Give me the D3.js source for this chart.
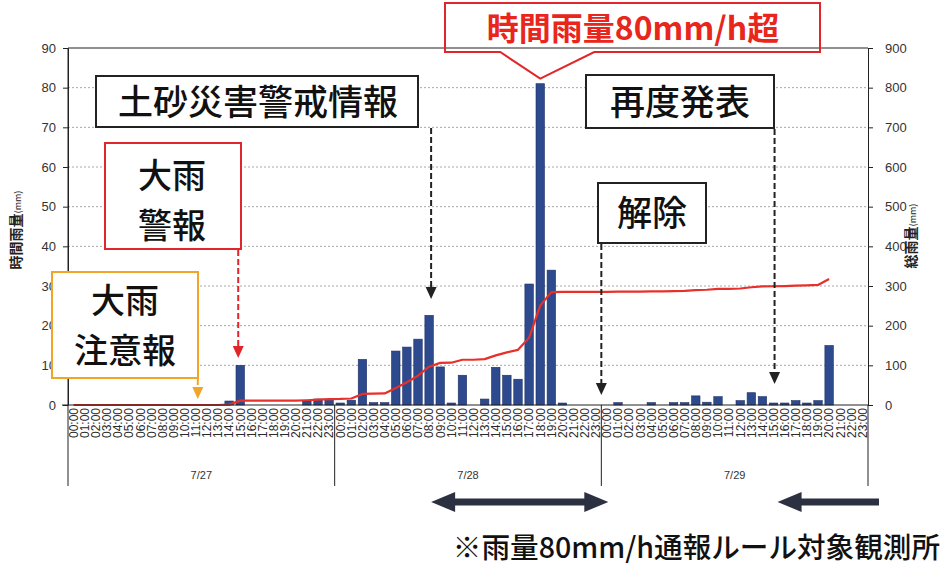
<!DOCTYPE html>
<html>
<head>
<meta charset="utf-8">
<script src="https://cdn.jsdelivr.net/npm/d3@7"></script>
<style>
  html, body { margin: 0; padding: 0; background: #fff; }
  svg { display: block; }
</style>
</head>
<body>
<svg id="chart" width="944" height="582"></svg>
<script>
// ---- data ----
const days = ["7/27", "7/28", "7/29"];
const hourLabels = ["00:00","01:00","02:00","03:00","04:00","05:00","06:00","07:00",
  "08:00","09:00","10:00","11:00","12:00","13:00","14:00","15:00",
  "16:00","17:00","18:00","19:00","20:00","21:00","22:00","23:00"];
// hourly rainfall (mm), one value per hour
const rain27 = [0,0,0,0,0,0,0,0,0,0,0,0,0,0,1.0,10.0,0,0,0,0,0,1.0,1.5,1.2];
const rain28 = [0.5,1.2,11.5,0.6,0.6,13.6,14.6,16.6,22.6,9.6,0.5,7.5,0,1.5,9.5,7.5,6.5,30.5,81.0,34.0,0.5,0,0,0];
const rain29 = [0,0.6,0,0,0.6,0,0.6,0.6,2.3,0.7,2.1,0,1.1,3.1,2.1,0.5,0.5,1.1,0.5,1.1,15.0]; // record ends at 20:00
const leftTicks = [0,10,20,30,40,50,60,70,80,90];
const rightTicks = [0,100,200,300,400,500,600,700,800,900];

// ---- build hourly records ----
const hourly = [rain27, rain28, rain29].flatMap((arr, d) =>
  arr.map((v, h) => ({ slot: d * 24 + h, rain: v })));
const totals = d3.cumsum(hourly, r => r.rain);
hourly.forEach((r, i) => { r.total = totals[i]; });

// ---- layout ----
const svg = d3.select("#chart");
const plot = { left: 68, right: 868, top: 48, bottom: 405 };
const slots = d3.range(days.length * 24);

const x = d3.scaleBand().domain(slots).range([plot.left, plot.right])
  .paddingInner(0.24).paddingOuter(0.12);
const yL = d3.scaleLinear().domain([0, 90]).range([plot.bottom, plot.top]);
const yR = d3.scaleLinear().domain([0, 900]).range([plot.bottom, plot.top]);
const cx = i => x(i) + x.bandwidth() / 2;
const step = x.step();

const tickFont = "'Liberation Sans', Arial, sans-serif";
const jpFont = "'Noto Sans CJK JP', 'Noto Sans', sans-serif";

// gridlines
svg.append("g")
  .selectAll("line").data(leftTicks.filter(t => t > 0 && t < 90)).join("line")
  .attr("x1", plot.left).attr("x2", plot.right)
  .attr("y1", d => yL(d)).attr("y2", d => yL(d))
  .attr("stroke", "#a8a8a8").attr("stroke-width", 1)
  .attr("stroke-dasharray", "2,2");

// top border of plot area
svg.append("line")
  .attr("x1", plot.left).attr("x2", plot.right)
  .attr("y1", plot.top).attr("y2", plot.top)
  .attr("stroke", "#222").attr("stroke-width", 1.2);

// bars
svg.append("g").selectAll("rect").data(hourly.filter(r => r.rain > 0)).join("rect")
  .attr("x", r => x(r.slot)).attr("width", x.bandwidth())
  .attr("y", r => yL(r.rain)).attr("height", r => yL(0) - yL(r.rain))
  .attr("fill", "#2e4a8e").attr("stroke", "#1d2f66").attr("stroke-width", 0.6);

// cumulative line
svg.append("path").datum(hourly)
  .attr("fill", "none").attr("stroke", "#e8302a").attr("stroke-width", 2.2)
  .attr("stroke-linejoin", "round")
  .attr("d", d3.line().x(r => cx(r.slot)).y(r => yR(r.total)));

// left axis
const gL = svg.append("g").attr("transform", `translate(${plot.left},0)`)
  .call(d3.axisLeft(yL).tickValues(leftTicks).tickSize(5).tickSizeOuter(0));
gL.selectAll("text").attr("font-family", tickFont).attr("font-size", 13)
  .attr("fill", "#333").attr("x", -12);
gL.selectAll("line, path").attr("stroke", "#222");

// right axis
const gR = svg.append("g").attr("transform", `translate(${plot.right},0)`)
  .call(d3.axisRight(yR).tickValues(rightTicks).tickSize(5).tickSizeOuter(0));
gR.selectAll("text").attr("font-family", tickFont).attr("font-size", 13)
  .attr("fill", "#333").attr("x", 17);
gR.selectAll("line, path").attr("stroke", "#222");

// category axis: hour labels
const gX = svg.append("g").attr("transform", `translate(0,${plot.bottom})`)
  .call(d3.axisBottom(x).tickSize(0).tickFormat(i => hourLabels[i % 24]));
gX.select(".domain").attr("stroke", "#222").attr("stroke-width", 1.2)
  .attr("d", `M${plot.left - 6},0H${plot.right}`);
gX.selectAll("text")
  .attr("font-family", tickFont).attr("font-size", 12).attr("fill", "#2a2a2a")
  .attr("text-anchor", "end").attr("dy", null).attr("y", 0)
  .attr("transform", "translate(4.3,3) rotate(-90)");

// day separators and labels
const dayEdges = d3.range(days.length + 1).map(d => d === days.length ? plot.right : x(d * 24) - x.paddingOuter() * step);
svg.append("g").selectAll("line").data(dayEdges).join("line")
  .attr("x1", d => d).attr("x2", d => d)
  .attr("y1", plot.bottom).attr("y2", 486)
  .attr("stroke", "#222").attr("stroke-width", 1);
svg.append("line").attr("x1", plot.left).attr("x2", plot.left)
  .attr("y1", plot.top).attr("y2", plot.bottom).attr("stroke", "#222");
svg.append("g").selectAll("text").data(days).join("text")
  .attr("x", (d, i) => (dayEdges[i] + dayEdges[i + 1]) / 2)
  .attr("y", 479).attr("text-anchor", "middle")
  .attr("font-family", tickFont).attr("font-size", 11).attr("fill", "#333")
  .text(d => d);

// axis titles
svg.append("text")
  .attr("transform", "translate(21,230) rotate(-90)")
  .attr("text-anchor", "middle").attr("font-family", jpFont).attr("fill", "#222")
  .call(t => {
    t.append("tspan").attr("font-size", 14).attr("font-weight", 700).text("時間雨量");
    t.append("tspan").attr("font-size", 9).text("(mm)");
  });
svg.append("text")
  .attr("transform", "translate(916,236) rotate(-90)")
  .attr("text-anchor", "middle").attr("font-family", jpFont).attr("fill", "#222")
  .call(t => {
    t.append("tspan").attr("font-size", 14).attr("font-weight", 700).text("総雨量");
    t.append("tspan").attr("font-size", 9).text("(mm)");
  });

// ---- annotations ----
function dashedArrow(xp, y1, y2, color) {
  svg.append("line").attr("x1", xp).attr("x2", xp).attr("y1", y1).attr("y2", y2 - 10)
    .attr("stroke", color).attr("stroke-width", 2).attr("stroke-dasharray", "6,3");
  svg.append("path")
    .attr("d", `M${xp - 5.5},${y2 - 12}L${xp + 5.5},${y2 - 12}L${xp},${y2}Z`)
    .attr("fill", color);
}
function box(x0, y0, w, h, color) {
  svg.append("rect").attr("x", x0).attr("y", y0).attr("width", w).attr("height", h)
    .attr("fill", "#fff").attr("stroke", color).attr("stroke-width", 2);
}
// one text element; several lines are stacked as tspans
function label(lines, xp, yp, size, color, weight) {
  const gap = size * 1.45 + 0.5;
  const t = svg.append("text").attr("text-anchor", "middle")
    .attr("font-family", jpFont).attr("font-size", size)
    .attr("font-weight", weight || 500).attr("fill", color);
  [].concat(lines).forEach((s, i) => {
    t.append("tspan").attr("x", xp)
      .attr("y", yp + i * gap + size * 0.36).text(s);
  });
}

// 大雨注意報
box(52, 272, 146, 106, "#f0a526");
label(["大雨", "注意報"], 125, 301, 34, "#111");
dashedArrow(cx(11) + 2, 379, 399, "#f0a526");

// 大雨警報
box(105, 143, 136, 106, "#e0262a");
label(["大雨", "警報"], 172, 176, 34, "#111");
dashedArrow(cx(15) - 2, 250, 358, "#e0262a");

// 土砂災害警戒情報
box(96, 76, 322, 51, "#222");
label("土砂災害警戒情報", 258, 102, 35, "#111");
dashedArrow(cx(24 + 8) + 2, 128, 299, "#222");

// 再度発表
box(586, 75, 188, 53, "#222");
label("再度発表", 680, 102, 35, "#111");
dashedArrow(cx(48 + 15) + 1, 129, 384, "#222");

// 解除
box(598, 183, 108, 60, "#222");
label("解除", 652, 213, 35, "#111");
dashedArrow(dayEdges[2], 244, 395, "#222");

// 時間雨量80mm/h超 (callout pointing at the peak hour)
const peak = hourly.reduce((a, b) => (b.rain > a.rain ? b : a));
const px = cx(peak.slot), py = yL(peak.rain) - 5;
svg.append("path")
  .attr("d", `M445,3H820V52H${px + 54}L${px},${py}L${px - 40},52H445Z`)
  .attr("fill", "none").attr("stroke", "#e0262a").attr("stroke-width", 2);
label("時間雨量80mm/h超", 633, 28, 32, "#e8261c", 700);

// period arrows under the axis
function blockArrow(xa, xb, yc, heads) {
  const sh = 3.5, hw = 10, hl = 24;
  const g = svg.append("g").attr("fill", "#2c3142");
  const left = heads.includes("L") ? xa + hl : xa;
  const right = heads.includes("R") ? xb - hl : xb;
  g.append("rect").attr("x", left - 1).attr("y", yc - sh).attr("width", right - left + 2).attr("height", sh * 2);
  if (heads.includes("L")) g.append("path").attr("d", `M${xa},${yc}L${xa + hl},${yc - hw}L${xa + hl},${yc + hw}Z`);
  if (heads.includes("R")) g.append("path").attr("d", `M${xb},${yc}L${xb - hl},${yc - hw}L${xb - hl},${yc + hw}Z`);
}
blockArrow(cx(24 + 8) + 2, dayEdges[2] + 7, 502, "LR");
blockArrow(cx(48 + 15) + 4, 878, 502, "L");

// footnote
svg.append("text").attr("x", 940).attr("y", 558).attr("text-anchor", "end")
  .attr("font-family", jpFont).attr("font-size", 28.6).attr("font-weight", 500)
  .attr("fill", "#111").text("※雨量80mm/h通報ルール対象観測所");
</script>
</body>
</html>
